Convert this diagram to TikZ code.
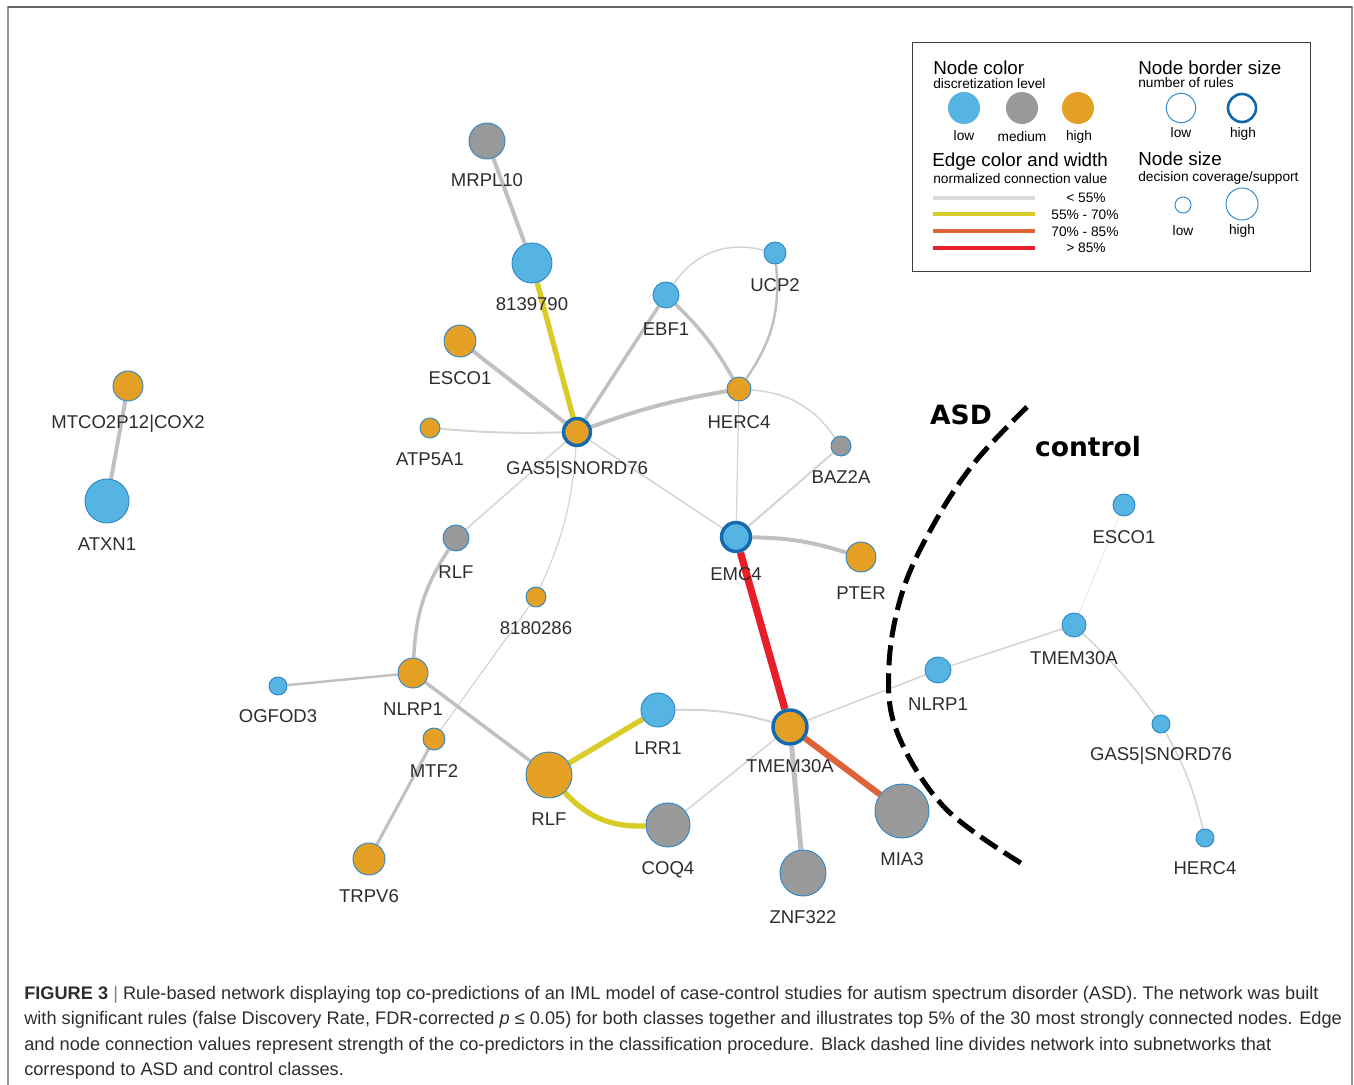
\documentclass[tikz,border=0pt]{standalone}
\usepackage{fontspec}
\setmainfont{Liberation Sans}
\newfontfamily\boldsans{DejaVu Sans}
\usetikzlibrary{backgrounds}
\definecolor{cblue}{RGB}{86,180,227}
\definecolor{cgray}{RGB}{153,153,153}
\definecolor{corange}{RGB}{227,160,37}
\definecolor{bdr}{RGB}{45,135,200}
\definecolor{bdrk}{RGB}{22,105,172}
\definecolor{egray}{RGB}{192,192,192}
\definecolor{elight}{RGB}{212,212,212}
\definecolor{eyel}{RGB}{218,204,40}
\definecolor{eora}{RGB}{222,100,55}
\definecolor{ered}{RGB}{232,30,40}
\definecolor{txt}{RGB}{45,45,45}
\definecolor{framec}{RGB}{150,150,150}
\definecolor{legb}{RGB}{60,60,60}
\begin{document}
\begin{tikzpicture}[x=0.75pt,y=-0.75pt,
  nd/.style={circle,inner sep=0pt,minimum size=#1*1.5pt,draw=bdr,line width=0.7pt},
  bl/.style={nd=#1,fill=cblue},
  gy/.style={nd=#1,fill=cgray},
  og/.style={nd=#1,fill=corange},
  hb/.style={draw=bdrk,line width=2.6pt},
  lab/.style={font=\fontsize{13.9}{14}\selectfont,text=txt,inner sep=0pt,text height=10pt,text depth=0pt},
  every label/.style={lab},
  label distance=10pt,
  ethick/.style={draw=egray,line width=#1*0.75pt},
  ethin/.style={draw=elight,line width=#1*0.75pt},
  lgt/.style={font=\fontsize{14.1}{15}\selectfont,anchor=base west,inner sep=0pt,text=black},
  lgs/.style={font=\fontsize{10.3}{11}\selectfont,anchor=base west,inner sep=0pt,text=black},
  lgc/.style={font=\fontsize{10.3}{11}\selectfont,anchor=base,inner sep=0pt,text=black},
  captxt/.style={font=\fontsize{13.65}{15}\selectfont,anchor=base west,inner sep=0pt,text=txt},
  bigtxt/.style={font=\boldsans\bfseries\fontsize{19.9}{21}\selectfont,inner sep=0pt,text=black}
]
\useasboundingbox (0,0) rectangle (1354,1085);
% frame
\draw[framec,line width=1.1pt] (8,1085) -- (8,7) -- (1352,7) -- (1352,1085);
\draw[gray!80!black,line width=1.2pt] (8,7) -- (1352,7);

% ASD nodes
\node[gy=18,label=below:MRPL10] (mrpl) at (487,141) {};
\node[bl=20,label=below:8139790] (n8139) at (532,263) {};
\node[og=16,label=below:ESCO1] (esco) at (460,341) {};
\node[og=10,label=below:ATP5A1] (atp) at (430,428) {};
\node[og=13.5,hb,label=below:GAS5|SNORD76] (gas) at (577,432) {};
\node[bl=13,label=below:EBF1] (ebf) at (666,295) {};
\node[bl=11,label=below:UCP2] (ucp) at (775,253) {};
\node[og=12,label=below:HERC4] (herc) at (739,389) {};
\node[gy=10,label=below:BAZ2A] (baz) at (841,446) {};
\node[bl=14.5,hb,label=below:EMC4] (emc) at (736,537) {};
\node[og=15,label=below:PTER] (pter) at (861,557) {};
\node[gy=13,label=below:RLF] (rlfg) at (456,538) {};
\node[og=10,label=below:8180286] (n8180) at (536,597) {};
\node[og=15,label=below:NLRP1] (nlrp) at (413,673) {};
\node[bl=9,label=below:OGFOD3] (ogf) at (278,686) {};
\node[og=11,label=below:MTF2] (mtf) at (434,739) {};
\node[og=16,label=below:TRPV6] (trpv) at (369,859) {};
\node[og=23,label=below:RLF] (rlf) at (549,775) {};
\node[bl=17,label=below:LRR1] (lrr) at (658,710) {};
\node[gy=22,label=below:COQ4] (coq) at (668,825) {};
\node[og=17,hb,label=below:TMEM30A] (tmem) at (790,727) {};
\node[gy=23,label=below:ZNF322] (znf) at (803,873) {};
\node[gy=27,label=below:MIA3] (mia) at (902,811) {};
\node[og=15,label=below:MTCO2P12|COX2] (mtco) at (128,386) {};
\node[bl=22,label=below:ATXN1] (atxn) at (107,501) {};
% control nodes
\node[bl=11,label=below:ESCO1] (escoc) at (1124,505) {};
\node[bl=12,label=below:TMEM30A] (tmemc) at (1074,625) {};
\node[bl=13,label=below:NLRP1] (nlrpc) at (938,670) {};
\node[bl=9,label=below:GAS5|SNORD76] (gasc) at (1161,724) {};
\node[bl=9,label=below:HERC4] (hercc) at (1205,838) {};

\begin{scope}[on background layer]
\draw[ethick=4] (mrpl) -- (n8139);
\draw[draw=eyel,line width=4pt] (n8139) -- (gas);
\draw[ethick=4] (esco) -- (gas);
\draw[ethin=2] (atp) to[bend right=3] (gas);
\draw[ethick=3.5] (gas) -- (ebf);
\draw[ethick=4] (gas) to[bend left=5] (herc);
\draw[ethick=3.5] (ebf) to[bend left=8] (herc);
\draw[ethin=1.5] (ebf) to[bend left=35] (ucp);
\draw[ethick=2.5] (ucp) to[bend left=20] (herc);
\draw[ethin=1.5] (herc) to[bend left=25] (baz);
\draw[ethin=1.2] (herc) -- (emc);
\draw[ethin=2] (baz) -- (emc);
\draw[ethin=1.5] (gas) -- (emc);
\draw[ethin=1.5] (gas) -- (rlfg);
\draw[ethin=1.2] (gas) to[bend left=10] (n8180);
\draw[ethin=1.2] (n8180) -- (mtf);
\draw[ethick=3.5] (rlfg) to[bend right=15] (nlrp);
\draw[ethick=2.5] (nlrp) -- (ogf);
\draw[ethick=3.5] (nlrp) -- (rlf);
\draw[ethick=3] (mtf) -- (trpv);
\draw[draw=eyel,line width=4pt] (rlf) -- (lrr);
\draw[draw=eyel,line width=4pt] (rlf) to[bend right=25] (coq);
\draw[ethin=2] (lrr) to[bend left=8] (tmem);
\draw[ethin=1.5] (coq) -- (tmem);
\draw[draw=ered,line width=5.5pt] (emc) -- (tmem);
\draw[ethick=4] (emc) to[bend left=8] (pter);
\draw[draw=eora,line width=4.6pt] (tmem) -- (mia);
\draw[ethick=5] (tmem) -- (znf);
\draw[ethin=1.5] (tmem) -- (nlrpc);
\draw[ethin=1.5] (nlrpc) -- (tmemc);
\draw[draw=black!8,line width=0.8pt] (tmemc) -- (escoc);
\draw[ethin=1.5] (tmemc) to[bend left=5] (gasc);
\draw[ethin=1.5] (gasc) to[bend left=8] (hercc);
\draw[ethick=4] (mtco) -- (atxn);
\end{scope}

% divider
\draw[black,line width=3.75pt,dash pattern=on 15pt off 6pt]
  plot[smooth,tension=0.6] coordinates {(1027,407) (975,462) (935,522) (903,590) (889,665) (897,732) (945,808) (1024,865)};
\node[bigtxt] (asd) at (961,415) {ASD};
\node[bigtxt] (ctrl) at (1088,447) {control};

% legend
\node[draw=legb,line width=1.1pt,minimum width=298.5pt,minimum height=171.75pt,inner sep=0pt,anchor=north west] (legend) at (912,42) {};
\node[lgt] (t1) at (933,74) {Node color};
\node[lgs] (s1) at (933,88) {discretization level};
\node[circle,inner sep=0pt,minimum size=24pt,fill=cblue] (lc1) at (964,108) {};
\node[circle,inner sep=0pt,minimum size=24pt,fill=cgray] (lc2) at (1022,108) {};
\node[circle,inner sep=0pt,minimum size=24pt,fill=corange] (lc3) at (1078,108) {};
\node[lgc] (lc1t) at (964,140) {low};
\node[lgc] (lc2t) at (1022,141) {medium};
\node[lgc] (lc3t) at (1079,140) {high};
\node[lgt] (t2) at (1138,74) {Node border size};
\node[lgs] (s2) at (1138,87) {number of rules};
\node[circle,inner sep=0pt,minimum size=22pt,draw=bdr,line width=0.7pt] (lb1) at (1181,108) {};
\node[circle,inner sep=0pt,minimum size=21pt,draw=bdrk,line width=2pt] (lb2) at (1242,108) {};
\node[lgc] (lb1t) at (1181,137) {low};
\node[lgc] (lb2t) at (1243,137) {high};
\node[lgt] (t3) at (932,166) {Edge color and width};
\node[lgs] (s3) at (933,183) {normalized connection value};
\draw[draw=black!14,line width=3.6pt] (933,198) -- (1035,198);
\draw[draw=eyel,line width=3.6pt] (933,214) -- (1035,214);
\draw[draw=eora,line width=3.6pt] (933,231) -- (1035,231);
\draw[draw=ered,line width=3.6pt] (933,248) -- (1035,248);
\node[lgc] (e1) at (1086,202) {< 55\%};
\node[lgc] (e2) at (1085,219) {55\% - 70\%};
\node[lgc] (e3) at (1085,236) {70\% - 85\%};
\node[lgc] (e4) at (1086,252) {> 85\%};
\node[lgt] (t4) at (1138,165) {Node size};
\node[lgs] (s4) at (1138,181) {decision coverage/support};
\node[circle,inner sep=0pt,minimum size=12pt,draw=bdr,line width=0.7pt] (ls1) at (1183,205) {};
\node[circle,inner sep=0pt,minimum size=24pt,draw=bdr,line width=0.7pt] (ls2) at (1242,204) {};
\node[lgc] (ls1t) at (1183,235) {low};
\node[lgc] (ls2t) at (1242,234) {high};

% caption
\node[captxt] (c1) at (24,999) {\textbf{FIGURE 3} \textcolor{black!50}{|} Rule-based network displaying top co-predictions of an IML model of case-control studies for autism spectrum disorder (ASD). The network was built};
\node[captxt] (c2) at (24,1024) {with significant rules (false Discovery Rate, FDR-corrected \textit{p} ≤ 0.05) for both classes together and illustrates top 5\% of the 30 most strongly connected nodes. Edge};
\node[captxt] (c3) at (24,1050) {and node connection values represent strength of the co-predictors in the classification procedure. Black dashed line divides network into subnetworks that};
\node[captxt] (c4) at (24,1075) {correspond to ASD and control classes.};
\end{tikzpicture}
\end{document}
